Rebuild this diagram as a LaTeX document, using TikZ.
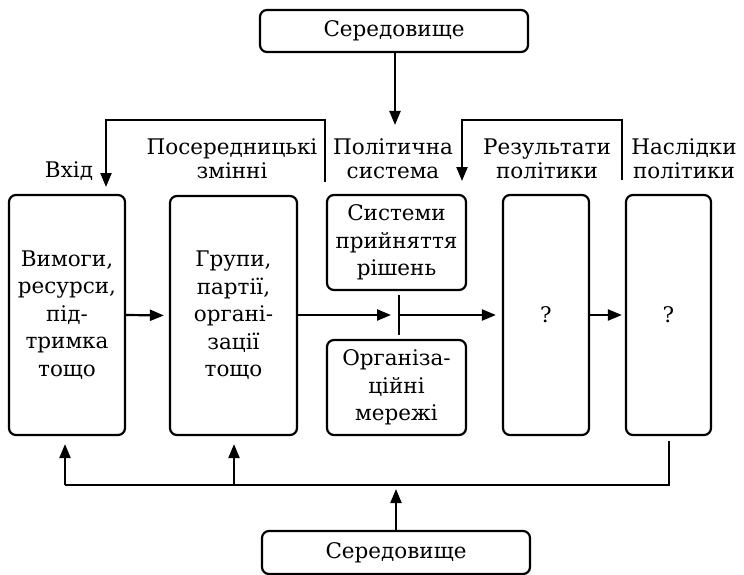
\documentclass[tikz,border=0pt]{standalone}
\usepackage{fontspec}
\setmainfont{DejaVu Serif}
\usetikzlibrary{arrows.meta}
\begin{document}
\begin{tikzpicture}[x=1pt,y=-1pt,
  box/.style={draw, line width=2.2pt, rounded corners=7pt, inner sep=0pt, align=center,
              font=\fontsize{21.5}{27.5}\selectfont},
  lbl/.style={align=center, inner sep=0pt, anchor=base, font=\fontsize{21.5}{24}\selectfont},
  arr/.style={line width=2.2pt, -{Triangle[length=14pt,width=11pt]}},
  ln/.style={line width=2.2pt}]
\useasboundingbox (0,0) rectangle (744,575);

% environment boxes
\node[box, minimum width=268pt, minimum height=42pt] (envT) at (394,31) {Середовище};
\node[box, minimum width=268pt, minimum height=43pt] (envB) at (396,552.5) {Середовище};

% main boxes
\node[box, minimum width=116pt, minimum height=240pt] (b1) at (67,315) {Вимоги,\\ресурси,\\під-\\тримка\\тощо};
\node[box, minimum width=127pt, minimum height=239pt] (b2) at (233.5,315.5) {Групи,\\партії,\\органі-\\зації\\тощо};
\node[box, minimum width=139pt, minimum height=95pt] (b3a) at (396.5,242.5) {Системи\\прийняття\\рішень};
\node[box, minimum width=139pt, minimum height=95pt] (b3b) at (396.5,387.5) {Організа-\\ційні\\мережі};
\node[box, minimum width=86pt, minimum height=240pt] (b4) at (546,315) {?};
\node[box, minimum width=85pt, minimum height=240pt] (b5) at (668.5,315) {?};

% column labels
\node[lbl] (lIn) at (69,177) {Вхід};
\node[lbl] (lMed) at (232,178) {Посередницькі\\змінні};
\node[lbl] (lPol) at (393,178) {Політична\\система};
\node[lbl] (lRes) at (547,178) {Результати\\політики};
\node[lbl] (lCon) at (684,178) {Наслідки\\політики};

% top environment arrow
\coordinate (polIn) at (395,125);
\draw[arr] (envT.south -| polIn) -- (polIn);

% upper feedback loops
\coordinate (fbLs) at (325,182);
\coordinate (inIn) at (106,187);
\draw[arr] (fbLs) -- ++(0,-62) -| (inIn);
\coordinate (fbRs) at (622,180);
\coordinate (resIn) at (462,181);
\draw[arr] (fbRs) -- ++(0,-60) -| (resIn);

% main flow
\coordinate (barT) at (399,295);
\coordinate (barB) at (399,335);
\coordinate (barM) at (399,315);
\draw[ln] (barT) -- (barB);
\draw[arr, shorten >=5pt] (b1.east) -- (b2.west);
\draw[arr, shorten >=8pt] (b2.east |- barM) -- (barM);
\draw[arr, shorten >=6pt] (barM) -- (b4.west |- barM);
\draw[arr, shorten >=3pt] (b4.east |- barM) -- (b5.west |- barM);

% bottom feedback bus
\coordinate (busL) at (65,485);
\coordinate (busC) at (234,485);
\coordinate (busM) at (396,485);
\coordinate (busR) at (669,485);
\coordinate (b5tail) at (669,441);
\draw[ln] (busL) -- (busR) -- (b5tail);
\draw[arr, shorten >=8pt] (busL) -- (b1.south -| busL);
\draw[arr, shorten >=8pt] (busC) -- (b2.south -| busC);
\draw[arr, shorten >=4pt] (envB.north) -- (busM);
\end{tikzpicture}
\end{document}
